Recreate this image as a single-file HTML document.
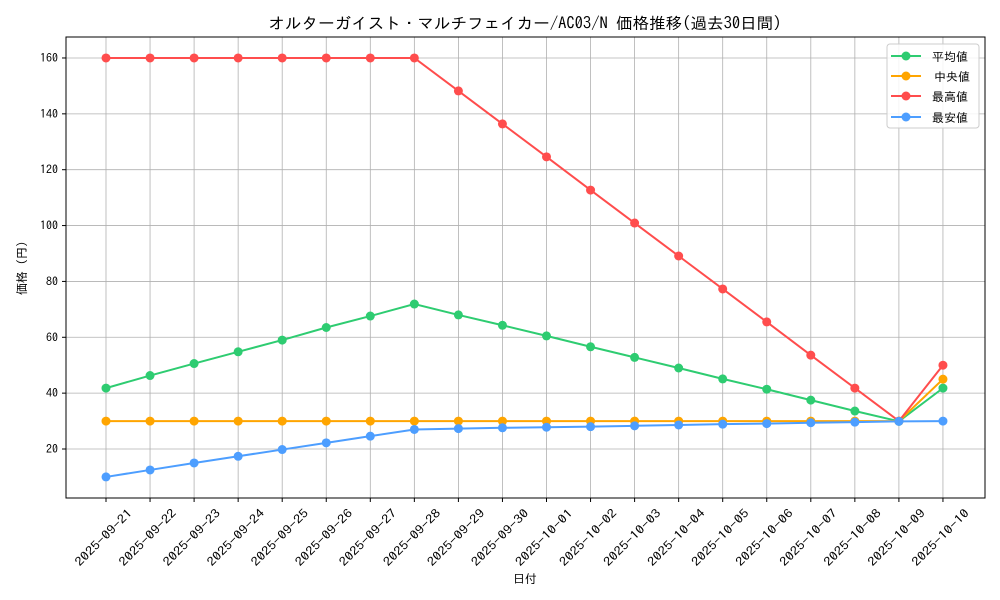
<!DOCTYPE html>
<html><head><meta charset="utf-8"><style>body{margin:0;background:#fff}svg{display:block;font-family:"IPAGothic","Noto Sans CJK JP",sans-serif}</style></head>
<body>
<svg id="s" width="1000" height="600" xmlns="http://www.w3.org/2000/svg">
<rect width="1000" height="600" fill="#fff"/>
<text x="525" y="29" font-size="16" text-anchor="middle" fill="#000" textLength="513" lengthAdjust="spacingAndGlyphs">オルターガイスト・マルチフェイカー/AC03/N 価格推移(過去30日間)</text>
<g id="g"></g>
<rect x="66" y="37" width="919" height="461" fill="none" stroke="#000" stroke-width="1"/>
<text x="525" y="583" font-size="12" text-anchor="middle">日付</text>
<text transform="translate(26,268) rotate(-90)" font-size="12" text-anchor="middle">価格 (円)</text>
<g font-size="12">
<rect x="887" y="44" width="92" height="84" rx="3" fill="#fff" fill-opacity="0.85" stroke="#ccc"/>
<line x1="891" y1="56" x2="921" y2="56" stroke="#2ecc71" stroke-width="2"/><circle cx="906" cy="56" r="4.5" fill="#2ecc71"/><text x="932" y="61">平均値</text>
<line x1="891" y1="76" x2="921" y2="76" stroke="#ffa500" stroke-width="2"/><circle cx="906" cy="76" r="4.5" fill="#ffa500"/><text x="934" y="81">中央値</text>
<line x1="891" y1="96" x2="921" y2="96" stroke="#ff4d4d" stroke-width="2"/><circle cx="906" cy="96" r="4.5" fill="#ff4d4d"/><text x="932" y="101">最高値</text>
<line x1="891" y1="117" x2="921" y2="117" stroke="#4d9eff" stroke-width="2"/><circle cx="906" cy="117" r="4.5" fill="#4d9eff"/><text x="932" y="122">最安値</text>
</g>
</svg>
<script>
const g=document.getElementById('g');let h='';
const X=i=>106+i*44.05, Y=v=>449-(v-20)*2.793;
const dates=[];for(let d=21;d<=30;d++)dates.push('2025-09-'+d);for(let d=1;d<=10;d++)dates.push('2025-10-'+String(d).padStart(2,'0'));
dates.forEach((d,i)=>{h+=`<line x1="${X(i)}" y1="37" x2="${X(i)}" y2="498" stroke="#b0b0b0" stroke-width="0.8"/><line x1="${X(i)}" y1="498" x2="${X(i)}" y2="502" stroke="#000"/><text transform="translate(${X(i)+27},514) rotate(-45)" font-size="12" text-anchor="end" textLength="75" lengthAdjust="spacingAndGlyphs">${d}</text>`;});
for(let v=20;v<=160;v+=20){h+=`<line x1="66" y1="${Y(v)}" x2="985" y2="${Y(v)}" stroke="#b0b0b0" stroke-width="0.8"/><line x1="62" y1="${Y(v)}" x2="66" y2="${Y(v)}" stroke="#000"/><text x="58" y="${Y(v)+4}" font-size="12" text-anchor="end">${v}</text>`;}
const S=[
['#2ecc71',[41.8,46.3,50.6,54.8,59,63.5,67.6,71.9,68,64.3,60.5,56.6,52.8,49,45.1,41.4,37.5,33.6,29.9,41.8]],
['#ffa500',[30,30,30,30,30,30,30,30,30,30,30,30,30,30,30,30,30,30,30,45]],
['#ff4d4d',[160,160,160,160,160,160,160,160,148.2,136.4,124.6,112.7,100.9,89.1,77.3,65.5,53.6,41.8,30,50]],
['#4d9eff',[10,12.5,15,17.4,19.8,22.2,24.6,27,27.3,27.6,27.8,28,28.3,28.6,28.9,29.1,29.4,29.6,29.9,30]]];
S.forEach(([c,d])=>{h+=`<polyline fill="none" stroke="${c}" stroke-width="2" points="${d.map((v,i)=>X(i)+','+Y(v)).join(' ')}"/>`;d.forEach((v,i)=>h+=`<circle cx="${X(i)}" cy="${Y(v)}" r="4.5" fill="${c}"/>`);});
g.innerHTML=h;
</script>
</body></html>
